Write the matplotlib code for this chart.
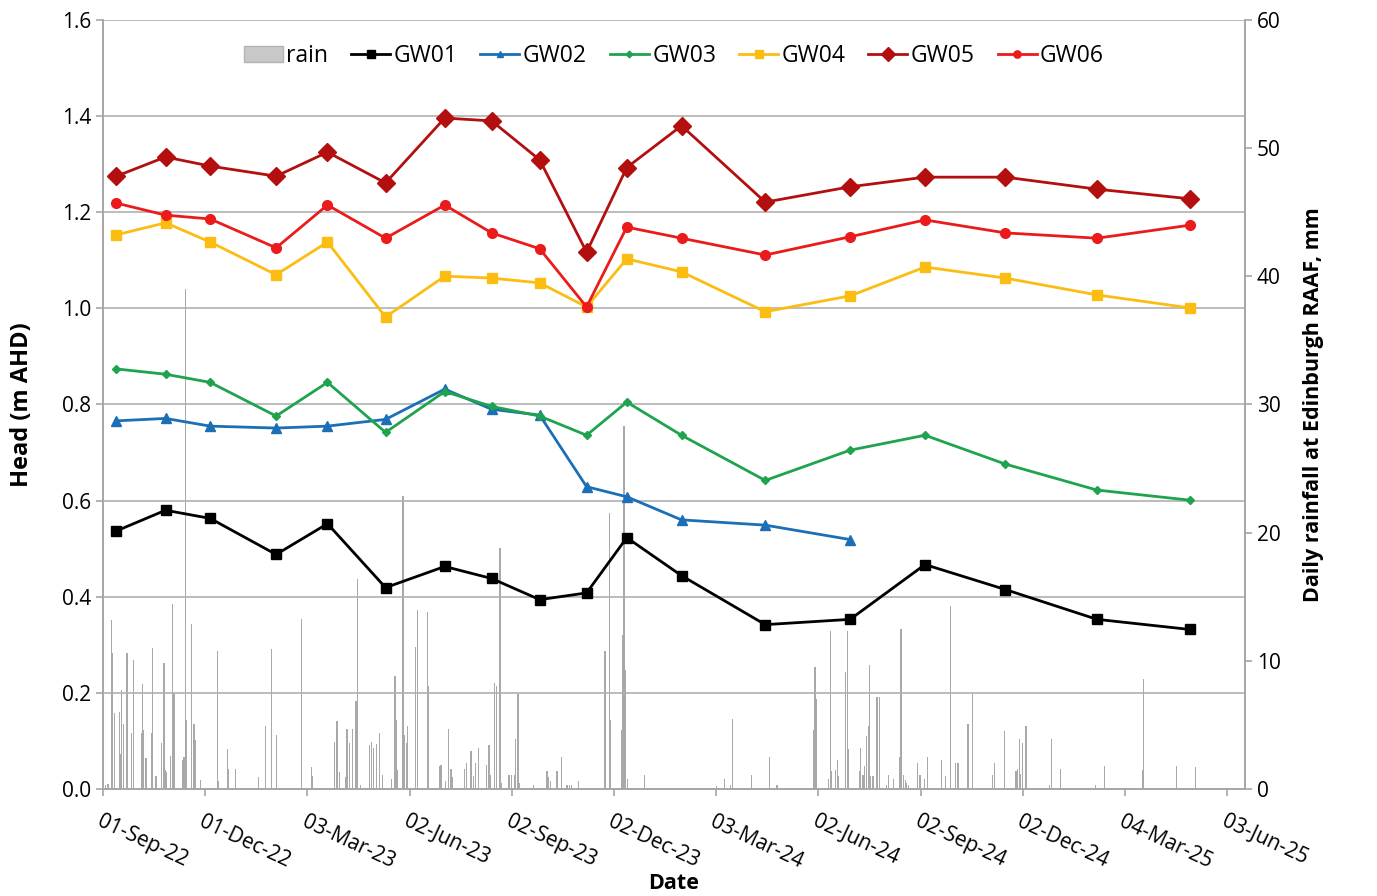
import numpy as np
import pandas as pd
import matplotlib
matplotlib.use("Agg")
import matplotlib.pyplot as plt
from matplotlib.patches import Patch

plt.rcParams['font.family'] = ['Open Sans', 'DejaVu Sans']

# groundwater head (m AHD) at each monitoring round
sample_dates = ["2022-09-13", "2022-10-27", "2022-12-06", "2023-02-03", "2023-03-21",
                "2023-05-12", "2023-07-04", "2023-08-15", "2023-09-27", "2023-11-08",
                "2023-12-14", "2024-02-01", "2024-04-16", "2024-07-01", "2024-09-06",
                "2024-11-17", "2025-02-07", "2025-05-01"]
gw01 = [0.537, 0.580, 0.563, 0.488, 0.552, 0.419, 0.463, 0.438, 0.394, 0.408,
        0.523, 0.444, 0.342, 0.353, 0.467, 0.415, 0.353, 0.332]
gw02 = [0.766, 0.771, 0.755, 0.751, 0.755, 0.769, 0.832, 0.790, 0.778, 0.629,
        0.608, 0.560, 0.549, 0.519]
gw03 = [0.874, 0.863, 0.846, 0.776, 0.846, 0.742, 0.827, 0.796, 0.776, 0.736,
        0.805, 0.736, 0.642, 0.705, 0.736, 0.676, 0.622, 0.601]
gw04 = [1.153, 1.178, 1.138, 1.070, 1.138, 0.982, 1.067, 1.063, 1.053, 1.003,
        1.103, 1.076, 0.993, 1.026, 1.086, 1.063, 1.028, 1.001]
gw05 = [1.275, 1.315, 1.296, 1.275, 1.325, 1.261, 1.396, 1.390, 1.309, 1.117,
        1.293, 1.380, 1.221, 1.253, 1.273, 1.273, 1.248, 1.228]
gw06 = [1.219, 1.194, 1.186, 1.126, 1.215, 1.146, 1.215, 1.157, 1.124, 1.003,
        1.169, 1.146, 1.111, 1.149, 1.184, 1.157, 1.146, 1.173]

# daily rainfall (mm), days without rain left out
rain_dates = [
    "2022-09-03", "2022-09-05", "2022-09-08", "2022-09-09", "2022-09-11", "2022-09-15", "2022-09-16", "2022-09-17", "2022-09-19", "2022-09-22", "2022-09-26", "2022-09-28",
    "2022-10-05", "2022-10-06", "2022-10-07", "2022-10-09", "2022-10-14", "2022-10-15", "2022-10-18", "2022-10-23", "2022-10-25", "2022-10-26", "2022-10-27", "2022-10-31",
    "2022-11-02", "2022-11-03", "2022-11-11", "2022-11-12", "2022-11-13", "2022-11-14", "2022-11-19", "2022-11-21", "2022-11-22", "2022-11-27",
    "2022-12-12", "2022-12-13", "2022-12-21", "2022-12-22", "2022-12-28",
    "2023-01-18", "2023-01-24", "2023-01-29", "2023-02-03", "2023-02-25",
    "2023-03-06", "2023-03-07", "2023-03-27", "2023-03-29", "2023-03-31",
    "2023-04-06", "2023-04-07", "2023-04-09", "2023-04-12", "2023-04-15", "2023-04-16", "2023-04-19", "2023-04-27", "2023-04-29",
    "2023-05-01", "2023-05-03", "2023-05-06", "2023-05-09", "2023-05-17", "2023-05-20", "2023-05-21", "2023-05-22", "2023-05-27", "2023-05-28", "2023-05-30", "2023-05-31",
    "2023-06-07", "2023-06-09", "2023-06-18", "2023-06-19", "2023-06-29", "2023-06-30",
    "2023-07-04", "2023-07-07", "2023-07-09", "2023-07-10", "2023-07-21", "2023-07-23", "2023-07-27", "2023-07-29", "2023-07-31",
    "2023-08-03", "2023-08-10", "2023-08-12", "2023-08-13", "2023-08-17", "2023-08-19", "2023-08-22", "2023-08-23", "2023-08-30",
    "2023-09-01", "2023-09-04", "2023-09-05", "2023-09-07", "2023-09-08", "2023-09-21",
    "2023-10-03", "2023-10-04", "2023-10-06", "2023-10-12", "2023-10-16", "2023-10-21", "2023-10-23", "2023-10-25", "2023-10-31",
    "2023-11-24", "2023-11-28", "2023-11-29", "2023-12-09", "2023-12-10", "2023-12-11", "2023-12-12", "2023-12-14", "2023-12-29",
    "2024-03-03", "2024-03-10", "2024-03-15", "2024-03-17", "2024-04-03", "2024-04-19", "2024-04-26",
    "2024-05-29", "2024-05-30", "2024-05-31", "2024-06-11", "2024-06-13", "2024-06-14", "2024-06-17", "2024-06-19", "2024-06-20", "2024-06-26", "2024-06-28", "2024-06-29",
    "2024-07-09", "2024-07-10", "2024-07-12", "2024-07-13", "2024-07-15", "2024-07-17", "2024-07-18", "2024-07-19", "2024-07-21", "2024-07-24", "2024-07-25", "2024-07-27",
    "2024-08-02", "2024-08-04", "2024-08-08", "2024-08-14", "2024-08-15", "2024-08-17", "2024-08-19", "2024-08-20", "2024-08-22", "2024-08-30",
    "2024-09-01", "2024-09-05", "2024-09-08", "2024-09-20", "2024-09-24", "2024-09-28",
    "2024-10-03", "2024-10-05", "2024-10-14", "2024-10-18", "2024-11-05", "2024-11-07", "2024-11-16", "2024-11-26", "2024-11-27", "2024-11-29", "2024-11-30",
    "2024-12-02", "2024-12-05", "2024-12-26", "2024-12-28",
    "2025-01-05", "2025-02-05", "2025-02-13", "2025-03-19", "2025-03-20", "2025-04-19", "2025-05-06",
]
rain_mm = [
    0.3, 0.4, 13.2, 10.6, 5.9, 6.0, 2.7, 7.7, 5.1, 10.6, 4.4, 10.1,
    4.4, 8.2, 4.6, 2.4, 4.4, 11.0, 1.0, 3.6, 9.8, 1.5, 1.3, 2.6,
    14.4, 7.5, 2.3, 2.5, 39.0, 5.4, 12.9, 5.1, 3.8, 0.7,
    10.8, 0.6, 3.1, 1.6, 1.6,
    0.9, 4.9, 10.9, 4.2, 13.3,
    1.7, 1.0, 3.7, 5.3, 1.3,
    0.9, 4.7, 3.6, 4.7, 6.9, 16.4, 0.3, 3.4, 3.7,
    3.2, 3.5, 4.4, 1.1, 0.8, 8.8, 5.4, 1.5, 22.9, 4.2, 3.6, 4.9,
    11.1, 14.0, 13.8, 8.0, 1.8, 1.9,
    0.6, 4.7, 1.6, 0.9, 1.6, 2.0, 3.0, 1.0, 2.0,
    3.2, 1.9, 3.4, 1.1, 8.3, 8.0, 18.8, 0.5, 1.1,
    1.1, 1.1, 3.9, 7.4, 0.5, 0.3,
    1.4, 0.9, 0.6, 1.4, 2.5, 0.3, 0.3, 0.3, 0.6,
    10.8, 21.5, 5.4, 4.6, 12.0, 28.3, 9.3, 0.8, 1.1,
    0.2, 0.8, 0.3, 5.5, 1.1, 2.5, 0.3,
    4.6, 9.5, 7.0, 0.8, 12.3, 1.4, 1.5, 2.3, 1.0, 9.1, 12.3, 3.1,
    1.4, 3.2, 1.1, 1.8, 4.1, 4.9, 9.7, 1.0, 1.0, 7.2, 7.2, 7.2,
    0.3, 1.1, 0.8, 2.5, 12.5, 1.1, 0.7, 0.5, 0.3, 2.0,
    1.1, 0.8, 2.5, 2.3, 1.0, 14.3,
    2.0, 2.0, 5.1, 7.5, 1.1, 2.0, 4.5, 1.4, 1.6, 3.9, 1.2,
    3.6, 4.9, 0.3, 3.9,
    1.6, 0.3, 1.8, 1.5, 8.6, 1.8, 1.7,
]

tick_labels = ["01-Sep-22", "01-Dec-22", "03-Mar-23", "02-Jun-23", "02-Sep-23", "02-Dec-23",
               "03-Mar-24", "02-Jun-24", "02-Sep-24", "02-Dec-24", "04-Mar-25", "03-Jun-25"]

t = pd.to_datetime(sample_dates)
rt = pd.to_datetime(rain_dates)
start = pd.Timestamp("2022-09-01")
ticks = [start + pd.Timedelta(days=91.5 * k) for k in range(len(tick_labels))]

fig = plt.figure(figsize=(13.77, 8.96), dpi=100)
ax = fig.add_axes([0.0748, 0.1194, 0.8293, 0.8583])
ax2 = ax.twinx()
ax.set_zorder(ax2.get_zorder() + 1)
ax.patch.set_visible(False)

ax2.bar(rt, rain_mm, width=1.1, color='#a9a9a9', edgecolor='none', align='edge')
ax2.set_ylim(0, 60)
ax2.set_yticks(range(0, 61, 10))

ax.plot(t, gw01, color='black', lw=2.0, marker='s', ms=7.5, label='GW01')
ax.plot(t[:len(gw02)], gw02, color='#1b6fb6', lw=2.0, marker='^', ms=6.5, label='GW02')
ax.plot(t, gw03, color='#1fa34f', lw=2.0, marker='D', ms=4.5, label='GW03')
ax.plot(t, gw04, color='#fbbd12', lw=2.0, marker='s', ms=7, label='GW04')
ax.plot(t, gw05, color='#b30f0f', lw=2.0, marker='D', ms=9, label='GW05')
ax.plot(t, gw06, color='#ec1b1b', lw=2.0, marker='o', ms=7, label='GW06')

ax.set_ylim(0, 1.6)
ax.set_yticks(np.arange(0, 1.61, 0.2))
ax.set_yticklabels([f"{v:.1f}" for v in np.arange(0, 1.61, 0.2)])
ax.set_xlim(start, start + pd.Timedelta(days=1022.5))
ax.set_xticks(ticks)
ax.set_xticklabels(tick_labels, rotation=-25, ha='left', va='top', rotation_mode='anchor')
ax.grid(axis='y', color='#b0b0b0', lw=1.2)
ax.set_axisbelow(True)

for a in (ax, ax2):
    a.spines['top'].set_visible(False)
    for s in ('left', 'right', 'bottom'):
        a.spines[s].set_color('#a6a6a6')
        a.spines[s].set_linewidth(1.2)
    a.tick_params(colors='#a6a6a6', labelcolor='black', labelsize=15, length=5, width=1.2)
ax.tick_params(axis='x', pad=11)

ax.set_ylabel('Head (m AHD)', fontsize=17, fontweight='bold', labelpad=20)
ax2.set_ylabel('Daily rainfall at Edinburgh RAAF, mm', fontsize=15.5, fontweight='bold', labelpad=16)
ax.set_xlabel('Date', fontsize=15.5, fontweight='bold', labelpad=0)

h1, l1 = ax.get_legend_handles_labels()
handles = [Patch(facecolor='#c8c8c8', edgecolor='#b3b3b3')] + h1
labels = ['rain'] + l1
ax.legend(handles, labels, loc='upper center', bbox_to_anchor=(0.5, 0.995), ncol=7,
          frameon=False, fontsize=16.5, handlelength=1.7, handletextpad=0.15,
          columnspacing=1.0, markerscale=0.75)

fig.savefig('out.png', dpi=100)
